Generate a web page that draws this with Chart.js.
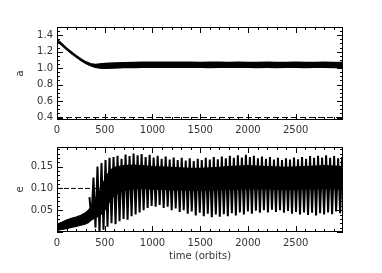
<!DOCTYPE html>
<html><head><meta charset="utf-8">
<script src="https://cdn.jsdelivr.net/npm/chart.js@4/dist/chart.umd.min.js"></script>
<style>
html,body{margin:0;padding:0;background:#fff;width:382px;height:273px;overflow:hidden}
#c1{position:absolute;left:0;top:0}
#c2{position:absolute;left:0;top:137px}
</style></head><body>
<canvas id="c1" width="382" height="137"></canvas>
<canvas id="c2" width="382" height="136"></canvas>
<script>
// ---------- data ----------
const xTicks = [0, 500, 1000, 1500, 2000, 2500];
const aTicks = [0.4, 0.6, 0.8, 1.0, 1.2, 1.4];
const eTicks = [0.05, 0.10, 0.15];

// semi-major axis a: lower / upper edge of the trace
const aTimes = [0, 50, 100, 150, 200, 250, 300, 350, 400, 450, 500, 600, 700, 800, 900, 1000, 1100, 1200, 1300, 1400, 1500, 1600, 1700, 1800, 1900, 2000, 2100, 2200, 2300, 2400, 2500, 2600, 2700, 2800, 2900, 3000];
const aLow  = [1.332, 1.280, 1.226, 1.180, 1.136, 1.093, 1.058, 1.032, 1.010, 1.000, 0.998, 1.002, 1.006, 1.008, 1.010, 1.010, 1.011, 1.010, 1.010, 1.009, 1.010, 1.008, 1.009, 1.010, 1.009, 1.010, 1.008, 1.009, 1.008, 1.010, 1.009, 1.008, 1.010, 1.009, 1.008, 1.008];
const aHigh = [1.352, 1.298, 1.244, 1.198, 1.154, 1.112, 1.078, 1.055, 1.045, 1.052, 1.058, 1.063, 1.067, 1.069, 1.071, 1.073, 1.072, 1.073, 1.071, 1.072, 1.070, 1.071, 1.072, 1.070, 1.071, 1.069, 1.070, 1.071, 1.069, 1.070, 1.071, 1.069, 1.070, 1.071, 1.069, 1.069];
const aRefTimes = [0, 3000];
const aRef = [0.4, 0.4];

// eccentricity e: dense core of the trace
const eBandTimes = [0, 50, 100, 150, 200, 250, 300, 330, 360, 400, 450, 500, 550, 600, 700, 800, 900, 1000, 1100, 1200, 1300, 1400, 1500, 1600, 1700, 1800, 1900, 2000, 2100, 2200, 2300, 2400, 2500, 2600, 2700, 2800, 2900, 3000];
const eBandLow  = [0.004, 0.006, 0.008, 0.011, 0.013, 0.016, 0.019, 0.022, 0.028, 0.033, 0.038, 0.050, 0.070, 0.085, 0.095, 0.099, 0.100, 0.098, 0.098, 0.097, 0.097, 0.096, 0.096, 0.097, 0.097, 0.098, 0.098, 0.099, 0.099, 0.099, 0.098, 0.098, 0.098, 0.099, 0.099, 0.100, 0.099, 0.099];
const eBandHigh = [0.018, 0.022, 0.027, 0.031, 0.034, 0.038, 0.044, 0.050, 0.058, 0.075, 0.095, 0.120, 0.140, 0.148, 0.152, 0.153, 0.152, 0.150, 0.149, 0.148, 0.147, 0.146, 0.146, 0.147, 0.148, 0.150, 0.151, 0.152, 0.151, 0.150, 0.149, 0.148, 0.149, 0.150, 0.151, 0.152, 0.151, 0.150];

// eccentricity oscillation: one peak and one trough per cycle
const eCycleStart = 340;
const eCyclePeriod = 42;
const ePeaks = [0.080, 0.125, 0.150, 0.158, 0.165, 0.170, 0.172, 0.175, 0.168, 0.178, 0.174, 0.180, 0.176, 0.179, 0.172, 0.177,
                0.171, 0.175, 0.168, 0.173, 0.166, 0.171, 0.165, 0.170, 0.164, 0.169, 0.163, 0.168, 0.165, 0.170, 0.166, 0.172,
                0.167, 0.173, 0.169, 0.175, 0.170, 0.176, 0.171, 0.177, 0.172, 0.175, 0.169, 0.173, 0.168, 0.172, 0.166, 0.170,
                0.165, 0.169, 0.166, 0.171, 0.167, 0.172, 0.168, 0.174, 0.170, 0.175, 0.171, 0.176, 0.170, 0.174, 0.169, 0.172];
const eTroughs = [0.030, 0.010, 0.000, 0.005, 0.012, 0.020, 0.018, 0.025, 0.030, 0.028, 0.036, 0.040, 0.045, 0.050, 0.055, 0.060,
                  0.058, 0.062, 0.055, 0.058, 0.050, 0.054, 0.046, 0.050, 0.042, 0.047, 0.038, 0.044, 0.036, 0.042, 0.034, 0.040,
                  0.035, 0.041, 0.036, 0.043, 0.038, 0.045, 0.040, 0.047, 0.042, 0.049, 0.044, 0.050, 0.045, 0.051, 0.046, 0.050,
                  0.044, 0.048, 0.042, 0.046, 0.040, 0.045, 0.039, 0.044, 0.038, 0.043, 0.040, 0.045, 0.041, 0.047, 0.043, 0.048];
const eRefTimes = [0, 460];
const eRef = [0.10, 0.10];

// ---------- helpers ----------
const FONT = {family: '"DejaVu Sans", sans-serif', size: 10};
const TXT = '#333';
const pts = (xs, ys) => xs.map((x, i) => ({x, y: ys[i]}));
const spikePts = [];
ePeaks.forEach((p, k) => {
  const t = eCycleStart + k * eCyclePeriod;
  spikePts.push({x: t, y: p});
  spikePts.push({x: t + eCyclePeriod / 2, y: eTroughs[k]});
});

const framePlugin = {
  id: 'frame',
  afterDatasetsDraw(chart, args, o) {
    const {ctx, chartArea: {left, right, top, bottom}, scales: {x, y}} = chart;
    ctx.save();
    ctx.strokeStyle = '#000';
    ctx.lineWidth = 1;
    ctx.strokeRect(left + 0.5, top + 0.5, right - left - 1, bottom - top - 1);
    ctx.beginPath();
    const xs = x.min, xe = x.max;
    for (let i = Math.ceil(xs / o.xMinor); i * o.xMinor <= xe; i++) {
      const v = i * o.xMinor;
      const px = Math.round(x.getPixelForValue(v)) + 0.5;
      const len = (v % o.xMajor === 0) ? 6 : 3;
      ctx.moveTo(px, bottom); ctx.lineTo(px, bottom - len);
      ctx.moveTo(px, top); ctx.lineTo(px, top + len);
    }
    const n0 = Math.ceil(y.min / o.yMinor - 1e-6), n1 = Math.floor(y.max / o.yMinor + 1e-6);
    for (let i = n0; i <= n1; i++) {
      const v = i * o.yMinor;
      const py = Math.round(y.getPixelForValue(v)) + 0.5;
      const major = Math.abs(Math.round(v / o.yMajor) * o.yMajor - v) < 1e-6;
      const len = major ? 6 : 3;
      ctx.moveTo(left, py); ctx.lineTo(left + len, py);
      ctx.moveTo(right, py); ctx.lineTo(right - len, py);
    }
    ctx.stroke();
    ctx.restore();
  }
};

function baseOptions(cfg) {
  return {
    responsive: false,
    animation: false,
    events: [],
    layout: {padding: cfg.padding},
    plugins: {legend: {display: false}, tooltip: {enabled: false}, frame: cfg.frame},
    elements: {line: {tension: 0}, point: {radius: 0}},
    scales: {
      x: {
        type: 'linear', min: 0, max: 2995,
        grid: {display: false, drawTicks: false}, border: {display: false},
        ticks: {font: FONT, color: TXT, padding: cfg.xPad, maxRotation: 0, autoSkip: false, callback: v => String(v)},
        afterBuildTicks: s => { s.ticks = xTicks.map(v => ({value: v})); },
        afterFit: s => { s.height = cfg.xHeight; },
        title: cfg.xTitle
      },
      y: {
        type: 'linear', min: cfg.yMin, max: cfg.yMax,
        grid: {display: false, drawTicks: false}, border: {display: false},
        ticks: {font: FONT, color: TXT, padding: 4, callback: v => v.toFixed(cfg.dec)},
        afterBuildTicks: s => { s.ticks = cfg.yTicks.map(v => ({value: v})); },
        afterFit: s => { s.width = 57; },
        title: {display: true, text: cfg.yLabel, font: FONT, color: TXT, padding: {top: 14, bottom: 0}}
      }
    }
  };
}

new Chart(document.getElementById('c1'), {
  type: 'line',
  data: {datasets: [
    {data: pts(aTimes, aLow), borderColor: '#000', borderWidth: 1.4, fill: false},
    {data: pts(aTimes, aHigh), borderColor: '#000', borderWidth: 1.4, fill: '-1', backgroundColor: '#000'},
    {data: pts(aRefTimes, aRef), borderColor: '#000', borderWidth: 1, borderDash: [6, 3], fill: false}
  ]},
  options: baseOptions({
    padding: {left: 0, right: 39, top: 27, bottom: 0},
    frame: {xMinor: 100, xMajor: 500, yMinor: 0.05, yMajor: 0.2},
    xPad: 4, xHeight: 17, xTitle: {display: false},
    yMin: 0.37, yMax: 1.5, yTicks: aTicks, dec: 1, yLabel: 'a'
  }),
  plugins: [framePlugin]
});

new Chart(document.getElementById('c2'), {
  type: 'line',
  data: {datasets: [
    {data: pts(eBandTimes, eBandLow), borderColor: '#000', borderWidth: 1.4, fill: false},
    {data: pts(eBandTimes, eBandHigh), borderColor: '#000', borderWidth: 1.4, fill: '-1', backgroundColor: '#000'},
    {data: spikePts, borderColor: '#000', borderWidth: 2, fill: false},
    {data: pts(eRefTimes, eRef), borderColor: '#000', borderWidth: 1, borderDash: [5, 2], fill: false}
  ]},
  options: baseOptions({
    padding: {left: 0, right: 39, top: 2, bottom: 0},
    frame: {xMinor: 100, xMajor: 500, yMinor: 0.01, yMajor: 0.05},
    xPad: 5, xHeight: 41,
    xTitle: {display: true, text: 'time (orbits)', font: FONT, color: TXT, padding: {top: 0, bottom: 11}},
    yMin: 0, yMax: 0.195, yTicks: eTicks, dec: 2, yLabel: 'e'
  }),
  plugins: [framePlugin]
});
</script>
</body></html>
